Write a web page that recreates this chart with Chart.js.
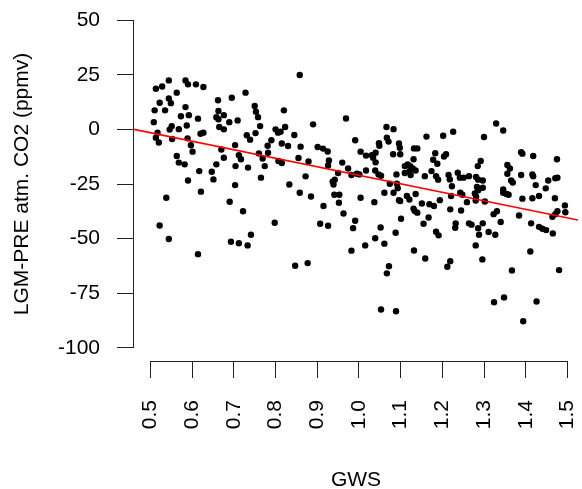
<!DOCTYPE html>
<html>
<head>
<meta charset="utf-8">
<script src="https://cdn.jsdelivr.net/npm/chart.js@4/dist/chart.umd.min.js"></script>
<style>
  html, body { margin: 0; padding: 0; background: #fff; }
</style>
</head>
<body>
<canvas id="scatter" width="582" height="489"></canvas>
<script>
// values (GWS vs LGM-PRE CO2)
const gws = [
  0.513, 0.528, 0.544, 0.584, 0.590, 0.609, 0.627, 0.728, 0.563, 0.544,
  0.549, 0.522, 0.510, 0.535, 0.584, 0.573, 0.592, 0.614, 0.662, 0.695,
  0.663, 0.658, 0.663, 0.676, 0.689, 0.709, 0.508, 0.587, 0.551, 0.546,
  0.568, 0.627, 0.620, 0.665, 0.676, 0.517, 0.513, 0.520, 0.552, 0.589,
  0.597, 0.601, 0.563, 0.568, 0.582, 0.703, 0.712, 0.717, 0.670, 0.676,
  0.658, 0.704, 0.731, 0.734, 0.617, 0.647, 0.651, 0.590, 0.703, 0.538,
  0.621, 0.690, 0.722, 0.522, 0.544, 0.614, 0.693, 0.712, 0.733, 0.858,
  0.750, 0.753, 0.758, 0.763, 0.820, 0.969, 0.890, 0.823, 0.800, 0.806,
  0.812, 0.752, 0.739, 0.790, 0.845, 0.781, 0.815, 0.830, 0.860, 0.901,
  0.914, 0.925, 0.991, 0.760, 0.782, 0.769, 0.855, 0.879, 0.807, 0.815,
  0.928, 0.926, 0.960, 0.974, 0.774, 0.950, 0.995, 0.982, 0.765, 0.872,
  0.937, 0.942, 0.833, 0.858, 0.885, 0.941, 0.953, 0.952, 0.915, 0.963,
  0.798, 0.907, 0.926, 0.991, 0.986, 0.741, 0.982, 0.847, 0.877, 0.939,
  1.066, 1.083, 1.067, 1.071, 1.048, 1.049, 1.096, 1.098, 1.162, 1.202,
  1.226, 1.132, 1.140, 1.004, 1.017, 1.031, 1.040, 1.034, 1.040, 1.082,
  1.099, 1.183, 1.178, 1.188, 1.204, 1.209, 1.131, 1.117, 1.110, 1.123,
  1.129, 1.136, 1.121, 1.110, 1.124, 1.017, 1.039, 1.047, 1.053, 1.001,
  1.090, 1.158, 1.174, 1.185, 1.190, 1.215, 1.218, 1.237, 1.242, 1.074,
  1.091, 1.223, 1.251, 1.093, 1.083, 1.061, 1.004, 1.037, 1.096, 1.099,
  1.115, 1.121, 1.136, 1.151, 1.169, 1.180, 1.194, 1.131, 1.134, 1.140,
  1.219, 1.245, 1.221, 1.243, 1.101, 1.167, 1.155, 1.052, 1.088, 1.039,
  1.061, 1.015, 1.232, 1.231, 1.185, 1.191, 1.132, 1.159, 1.219, 1.212,
  1.072, 1.067, 1.053, 1.089, 1.329, 1.346, 1.300, 1.389, 1.392, 1.418,
  1.475, 1.292, 1.285, 1.356, 1.362, 1.356, 1.389, 1.416, 1.418, 1.471,
  1.476, 1.264, 1.281, 1.286, 1.297, 1.365, 1.369, 1.424, 1.454, 1.283,
  1.297, 1.346, 1.448, 1.286, 1.248, 1.259, 1.280, 1.281, 1.278, 1.302,
  1.346, 1.354, 1.359, 1.392, 1.416, 1.432, 1.470, 1.494, 1.495, 1.476,
  1.471, 1.464, 1.323, 1.331, 1.384, 1.340, 1.413, 1.432, 1.440, 1.449,
  1.465, 1.264, 1.270, 1.297, 1.286, 1.288, 1.311, 1.327, 1.280, 1.296,
  1.411, 1.367, 1.480, 1.324, 1.348, 1.426, 1.394
];
const co2 = [
  18.6, 19.6, 22.4, 22.4, 20.6, 20.6, 19.4, 16.8, 16.8, 14.1,
  12.0, 12.2, 8.7, 8.7, 10.2, 6.0, 6.5, 4.9, 13.3, 14.5,
  8.4, 5.6, 4.6, 6.5, 3.3, 4.1, 3.3, 1.8, 1.4, -0.1,
  0.1, -1.5, -2.0, 1.1, 0.0, -1.5, -3.8, -6.0, -4.4, -4.1,
  -7.3, -10.2, -12.2, -15.2, -16.0, -7.2, -11.8, -13.7, -9.2, -13.0,
  -16.0, -16.8, -2.7, -17.5, -19.1, -19.4, -22.9, -23.4, -25.5, -31.3,
  -28.5, -33.1, -37.5, -44.0, -50.2, -57.1, -51.4, -52.1, -53.1, 24.9,
  10.7, 8.1, 5.6, 1.5, 8.7, 5.0, 2.3, 1.1, 0.0, -1.5,
  -1.1, -1.7, -4.7, -5.0, -2.6, -7.5, -6.5, -7.6, -7.9, -8.1,
  -8.8, -10.1, -5.0, -11.0, -10.7, -13.3, -13.1, -14.7, -14.5, -15.4,
  -14.2, -16.5, -15.2, -17.9, -16.8, -20.0, -20.3, -20.9, -22.1, -21.5,
  -23.9, -23.0, -25.2, -29.0, -30.7, -29.9, -29.9, -33.6, -35.1, -38.5,
  -42.7, -43.2, -44.1, -41.8, -45.2, -48.2, -55.5, -62.4, -61.2, -25.2,
  1.1, 0.1, -3.8, -5.6, -6.3, -7.5, -6.5, -8.4, -3.3, -2.9,
  -1.1, -8.7, -8.7, -10.2, -12.0, -11.8, -10.7, -13.0, -15.1, -11.4,
  -11.4, -10.9, -13.9, -15.7, -12.4, -11.4, -13.7, -16.0, -16.8, -16.8,
  -17.9, -18.8, -19.1, -20.0, -20.9, -18.8, -18.8, -20.6, -21.2, -20.6,
  -20.6, -21.4, -19.1, -21.4, -23.0, -20.9, -22.9, -19.8, -22.1, -24.9,
  -24.9, -26.0, -22.1, -26.9, -29.0, -29.0, -31.3, -33.3, -32.4, -32.8,
  -30.5, -32.1, -29.6, -33.9, -34.3, -35.1, -32.4, -36.3, -37.4, -38.1,
  -36.6, -37.1, -30.5, -29.0, -40.9, -40.3, -43.2, -44.9, -47.3, -49.8,
  -52.3, -53.1, -43.0, -45.0, -46.8, -48.5, -55.4, -59.1, -60.3, -62.9,
  -62.6, -65.9, -82.4, -83.2, 2.7, -0.5, -3.5, -10.5, -11.1, -12.2,
  -13.7, -14.5, -16.8, -16.3, -17.9, -20.3, -20.9, -20.6, -21.5, -22.4,
  -22.1, -21.4, -21.8, -23.0, -23.4, -23.4, -24.3, -25.5, -23.4, -26.4,
  -26.7, -27.5, -27.0, -27.9, -29.9, -33.3, -32.6, -30.8, -29.3, -33.0,
  -29.0, -29.6, -29.9, -31.7, -31.5, -30.5, -31.5, -34.8, -37.9, -37.5,
  -38.8, -40.0, -38.8, -37.5, -39.4, -42.4, -43.0, -44.6, -45.5, -46.1,
  -47.6, -43.0, -43.6, -43.0, -45.2, -48.2, -47.0, -48.2, -53.1, -59.5,
  -55.9, -64.6, -64.4, -79.1, -76.9, -78.8, -87.8
];

// regression line as drawn in the reference
const fitIntercept = 17.95;
const fitSlope = -38.97;

const xTicks = [0.5, 0.6, 0.7, 0.8, 0.9, 1.0, 1.1, 1.2, 1.3, 1.4, 1.5];
const yTicks = [-100, -75, -50, -25, 0, 25, 50];

const xMin = 0.4605, xMax = 1.5254;
const yMin = -106, yMax = 56;

const axisColor = "#222";
const fontFamily = "'Liberation Sans', Arial, sans-serif";
const fontSize = 21;

const points = gws.map((g, i) => ({ x: g, y: co2[i] }));
const fitLine = [
  { x: xMin, y: fitIntercept + fitSlope * xMin },
  { x: xMax, y: fitIntercept + fitSlope * xMax },
];

// R-style axis lines: only from first to last tick
const axisLines = {
  id: "axisLines",
  afterDraw(chart) {
    const { ctx, scales } = chart;
    const x = scales.x, y = scales.y;
    ctx.save();
    ctx.strokeStyle = axisColor;
    ctx.lineWidth = 1;
    ctx.beginPath();
    const xy = Math.round(x.top) + 0.5;
    ctx.moveTo(x.getPixelForValue(xTicks[0]), xy);
    ctx.lineTo(x.getPixelForValue(xTicks[xTicks.length - 1]), xy);
    const yx = Math.round(y.right) - 0.5;
    ctx.moveTo(yx, y.getPixelForValue(yTicks[0]));
    ctx.lineTo(yx, y.getPixelForValue(yTicks[yTicks.length - 1]));
    ctx.stroke();
    ctx.restore();
  },
};

new Chart(document.getElementById("scatter"), {
  type: "scatter",
  data: {
    datasets: [
      {
        type: "line",
        data: fitLine,
        borderColor: "#ff0000",
        borderWidth: 1.6,
        pointRadius: 0,
        fill: false,
        order: 0,
      },
      {
        data: points,
        backgroundColor: "#000",
        borderWidth: 0,
        pointRadius: 3.2,
        order: 1,
      },
    ],
  },
  options: {
    responsive: false,
    devicePixelRatio: 1,
    animation: false,
    layout: { padding: { top: 7, right: 0, bottom: 0, left: 0 } },
    plugins: {
      legend: { display: false },
      tooltip: { enabled: false },
    },
    scales: {
      x: {
        type: "linear",
        min: xMin,
        max: xMax,
        afterBuildTicks: (s) => { s.ticks = xTicks.map((v) => ({ value: v })); },
        afterFit: (s) => { s.height = 128; s.paddingLeft = 0; s.paddingRight = 0; },
        border: { display: false },
        grid: { drawOnChartArea: false, drawTicks: true, tickLength: 17, color: axisColor },
        ticks: {
          minRotation: 90,
          maxRotation: 90,
          padding: 22,
          color: "#000",
          font: { family: fontFamily, size: fontSize },
          callback: (v) => Number(v).toFixed(1),
        },
        title: {
          display: true,
          text: "GWS",
          color: "#000",
          font: { family: fontFamily, size: fontSize },
          padding: { top: 0, bottom: -4 },
        },
      },
      y: {
        type: "linear",
        min: yMin,
        max: yMax,
        afterBuildTicks: (s) => { s.ticks = yTicks.map((v) => ({ value: v })); },
        afterFit: (s) => { s.width = 134; s.paddingTop = 0; s.paddingBottom = 0; },
        border: { display: false },
        grid: { drawOnChartArea: false, drawTicks: true, tickLength: 17, color: axisColor },
        ticks: {
          padding: 17,
          color: "#000",
          font: { family: fontFamily, size: fontSize },
        },
        title: {
          display: true,
          text: "LGM-PRE atm. CO2 (ppmv)",
          color: "#000",
          font: { family: fontFamily, size: fontSize },
          padding: { top: 10, bottom: 0 },
        },
      },
    },
  },
  plugins: [axisLines],
});
</script>
</body>
</html>
